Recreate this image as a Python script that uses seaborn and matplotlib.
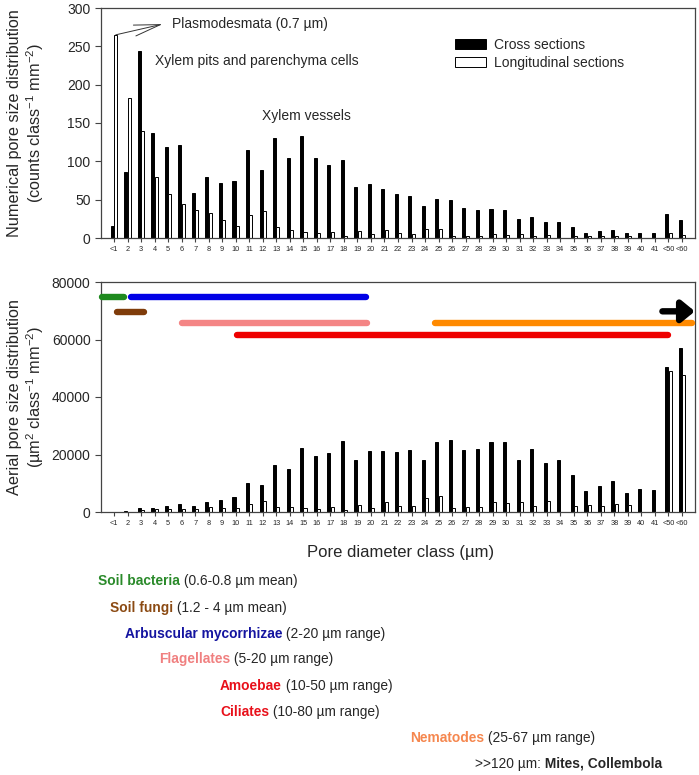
import numpy as np
import pandas as pd
import seaborn as sns
import matplotlib
matplotlib.use('Agg')
import matplotlib.pyplot as plt

# pore diameter classes (µm)
classes = ['<1', '2', '3', '4', '5', '6', '7', '8', '9', '10',
           '11', '12', '13', '14', '15', '16', '17', '18', '19', '20',
           '21', '22', '23', '24', '25', '26', '27', '28', '29', '30',
           '31', '32', '33', '34', '35', '36', '37', '38', '39', '40',
           '41', '<50', '<60']

# numerical pore size distribution (counts class-1 mm-2)
count_cross = [16, 86, 244, 137, 119, 121, 59, 79, 72, 74, 115, 89, 131, 104, 133, 104, 95, 102,
               67, 71, 64, 57, 55, 42, 51, 49, 39, 37, 38, 36, 25, 28, 21, 21, 14, 7, 9, 10, 6, 7, 6,
               31, 24]
count_long = [265, 183, 139, 79, 58, 45, 37, 33, 24, 16, 30, 35, 14, 11, 8, 6, 8, 3,
              9, 5, 10, 6, 5, 12, 12, 3, 3, 3, 5, 4, 5, 3, 4, 0, 2, 3, 2, 3, 2, 0, 0,
              7, 4]

# aerial pore size distribution (µm2 class-1 mm-2)
area_cross = [0, 350, 1280, 1400, 2000, 2900, 2000, 3600, 4300, 5350, 10000, 9300, 16200, 14900,
              22100, 19650, 20450, 24650, 18150, 21300, 21050, 20700, 21650, 18250, 24200, 25100,
              21500, 22000, 24400, 24300, 18150, 21850, 17200, 18250, 12900, 7350, 9050, 10700,
              6650, 7900, 7650, 50600, 57100]
area_long = [0, 50, 700, 930, 1050, 1160, 1160, 1630, 1510, 1280, 2670, 3720, 1740, 1630, 1280,
             1050, 1860, 580, 2330, 1510, 3370, 2210, 2210, 5000, 5580, 1510, 1860, 1860, 3370,
             3020, 3600, 2210, 3720, 0, 2090, 2330, 2090, 2790, 2330, 100, 0, 48950, 47550]

# organism size ranges drawn over the lower panel (class index units)
range_names = ['Soil bacteria', 'Arbuscular mycorrhizae', 'Soil fungi', 'Flagellates',
               'Nematodes', 'Amoebae / Ciliates']
range_start = [-0.85, 1.28, 0.24, 5.06, 23.7, 9.06]
range_end = [0.75, 18.67, 2.25, 18.74, 42.75, 40.97]
range_level = [74700, 74700, 69700, 65700, 65700, 61400]
range_colors = ['#1f8a1f', '#0000e6', '#7f3c0a', '#f48585', '#ff8a00', '#ee0000']

# organism legend below the chart
org_bold = ['Soil bacteria', 'Soil fungi', 'Arbuscular mycorrhizae', 'Flagellates',
            'Amoebae', 'Ciliates', 'Nematodes']
org_rest = [' (0.6-0.8 µm mean)', ' (1.2 - 4 µm mean)', ' (2-20 µm range)', ' (5-20 µm range)',
            ' (10-50 µm range)', ' (10-80 µm range)', ' (25-67 µm range)']
org_colors = ['#2a8a2a', '#8b4a13', '#1414a0', '#f08080', '#e8101a', '#e8101a', '#f5874f']
org_x = [98, 110, 125, 159, 220, 220, 410]
org_y = [581, 608, 634, 659, 686, 712, 738]

sns.set_theme(style='ticks')
plt.rcParams['font.family'] = ['Liberation Sans', 'DejaVu Sans']
plt.rcParams['mathtext.default'] = 'regular'
plt.rcParams['axes.edgecolor'] = '#444444'

W, H = 699, 775
fig = plt.figure(figsize=(W / 100, H / 100), dpi=100)

def px_axes(left, top, right, bottom):
    return fig.add_axes([left / W, 1 - bottom / H, (right - left) / W, (bottom - top) / H])

ax1 = px_axes(101, 8, 695, 238)
ax2 = px_axes(101, 282, 695, 512)

sec_labels = ['Cross sections', 'Longitudinal sections']
pal = {'Cross sections': 'black', 'Longitudinal sections': 'white'}

df1 = pd.DataFrame({'cls': classes * 2,
                    'val': count_cross + count_long,
                    'sec': [sec_labels[0]] * len(classes) + [sec_labels[1]] * len(classes)})
df2 = pd.DataFrame({'cls': classes * 2,
                    'val': area_cross + area_long,
                    'sec': [sec_labels[0]] * len(classes) + [sec_labels[1]] * len(classes)})

for ax, df in [(ax1, df1), (ax2, df2)]:
    sns.barplot(data=df, x='cls', y='val', hue='sec', order=classes, hue_order=sec_labels,
                palette=pal, edgecolor='black', linewidth=0.7, width=0.5, gap=0.1,
                errorbar=None, ax=ax)
    ax.set_xlim(-0.96, len(classes) - 0.04)
    ax.set_xlabel('')
    ax.tick_params(axis='x', labelsize=5.3, length=3, width=0.8, pad=3, color='#444444')
    ax.tick_params(axis='y', labelsize=10, length=4, width=0.8, color='#444444')
    for s in ax.spines.values():
        s.set_linewidth(0.9)

ax1.set_ylim(0, 300)
ax1.set_yticks([0, 50, 100, 150, 200, 250, 300])
ax1.set_ylabel('Numerical pore size distribution\n(counts class$^{-1}$ mm$^{-2}$)',
               fontsize=11.7, linespacing=1.12)
ax1.yaxis.set_label_coords(-0.093, 0.5)

handles, labels = ax1.get_legend_handles_labels()
ax1.legend(handles, labels, loc='upper left', bbox_to_anchor=(0.578, 0.92), frameon=False,
           fontsize=10, handlelength=2.2, handleheight=0.75, labelspacing=0.3,
           handletextpad=0.6, borderpad=0.3)

ax2.get_legend().remove()
ax2.set_ylim(0, 80000)
ax2.set_yticks([0, 20000, 40000, 60000, 80000])
ax2.set_ylabel('Aerial pore size distribution\n(µm$^{2}$ class$^{-1}$ mm$^{-2}$)',
               fontsize=11.7, linespacing=1.12)
ax2.yaxis.set_label_coords(-0.093, 0.5)

# organism size ranges
for x0, x1, yv, c in zip(range_start, range_end, range_level, range_colors):
    ax2.plot([x0, x1], [yv, yv], color=c, lw=4.6, solid_capstyle='round', clip_on=False, zorder=5)
ax2.annotate('', xy=(42.95, 69800), xytext=(40.55, 69800),
             arrowprops=dict(arrowstyle='-|>,head_length=0.55,head_width=0.45', lw=4.6,
                             color='black', shrinkA=0, shrinkB=0, mutation_scale=14,
                             capstyle='round'),
             annotation_clip=False, zorder=6)

# annotations in the top panel
ax1.annotate('', xy=(3.6, 279), xytext=(0.13, 265),
             arrowprops=dict(arrowstyle='->,head_length=1.9,head_width=0.4', lw=0.7,
                             color='#333333', shrinkA=0, shrinkB=0, mutation_scale=10),
             annotation_clip=False)
fig.text(172 / W, 1 - 24 / H, 'Plasmodesmata (0.7 µm)', fontsize=10, ha='left', va='center')
fig.text(155 / W, 1 - 61 / H, 'Xylem pits and parenchyma cells', fontsize=10, ha='left', va='center')
fig.text(262 / W, 1 - 116 / H, 'Xylem vessels', fontsize=10, ha='left', va='center')

fig.text(401 / W, 1 - 553 / H, 'Pore diameter class (µm)', fontsize=12, ha='center', va='center')

for b, r, c, x, y in zip(org_bold, org_rest, org_colors, org_x, org_y):
    t = fig.text(x / W, 1 - y / H, b, color=c, fontsize=9.9, fontweight='bold',
                 ha='left', va='center')
    ax2.annotate(r, xy=(1, 0.5), xycoords=t, fontsize=9.9, ha='left', va='center',
                 annotation_clip=False)

t = fig.text(475 / W, 1 - 764 / H, '>>120 µm:', fontsize=9.9, ha='left', va='center')
ax2.annotate(' Mites, Collembola', xy=(1, 0.5), xycoords=t, fontsize=9.9, fontweight='bold',
             ha='left', va='center', annotation_clip=False)

fig.savefig('out.png', dpi=100)
